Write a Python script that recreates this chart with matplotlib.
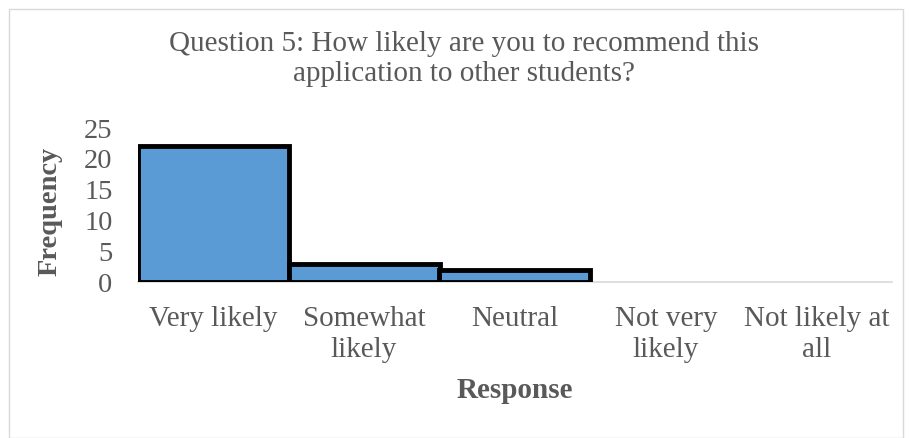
import matplotlib
matplotlib.use("Agg")
import matplotlib.pyplot as plt
from matplotlib.patches import Rectangle

# chart data
categories = ["Very likely", "Somewhat\nlikely", "Neutral", "Not very\nlikely", "Not likely at\nall"]
frequency = [22, 3, 2, 0, 0]
y_ticks = [0, 5, 10, 15, 20, 25]

title = "Question 5: How likely are you to recommend this\napplication to other students?"
grey = "#595959"

plt.rcParams['font.family'] = ['Liberation Serif', 'DejaVu Serif']

fig = plt.figure(figsize=(9.12, 4.38), dpi=100)
W, H = 912, 438
ax = fig.add_axes([137.5 / W, 1 - 282 / H, 755 / W, 154 / H])

x = list(range(len(categories)))
bars = ax.bar(x, frequency, width=1.0, color="#5B9BD5", edgecolor="black",
              linewidth=3.5, zorder=3)
for b, v in zip(bars, frequency):
    if v == 0:
        b.set_linewidth(0)

ax.set_xlim(-0.5, len(categories) - 0.5)
ax.set_ylim(0, 25)
ax.set_yticks(y_ticks)
ax.set_xticks(x)
ax.set_xticklabels(categories, fontsize=21, color=grey, linespacing=1.25)
ax.tick_params(axis='y', length=0, pad=18, labelsize=20.5, labelcolor=grey)
ax.tick_params(axis='x', length=0, pad=17)

for s in ["top", "right", "left"]:
    ax.spines[s].set_visible(False)
ax.spines["bottom"].set_color("#D9D9D9")
ax.spines["bottom"].set_linewidth(1.2)
ax.spines["bottom"].set_zorder(2)

fig.text(515 / W, 1 - 391 / H, "Response", ha="center", va="center",
         fontsize=21, fontweight="bold", color=grey)
fig.text(50 / W, 1 - 211 / H, "Frequency", ha="center", va="center", rotation=90,
         fontsize=20.5, fontweight="bold", color=grey)
fig.text(464 / W, 1 - 31 / H, title, ha="center", va="top",
         fontsize=21, color=grey, linespacing=1.18)

# chart border
fig.add_artist(Rectangle((9 / W, 0), 894 / W, 429 / H, transform=fig.transFigure,
                         fill=False, edgecolor="#D9D9D9", linewidth=1))

fig.savefig("out.png", dpi=100)
